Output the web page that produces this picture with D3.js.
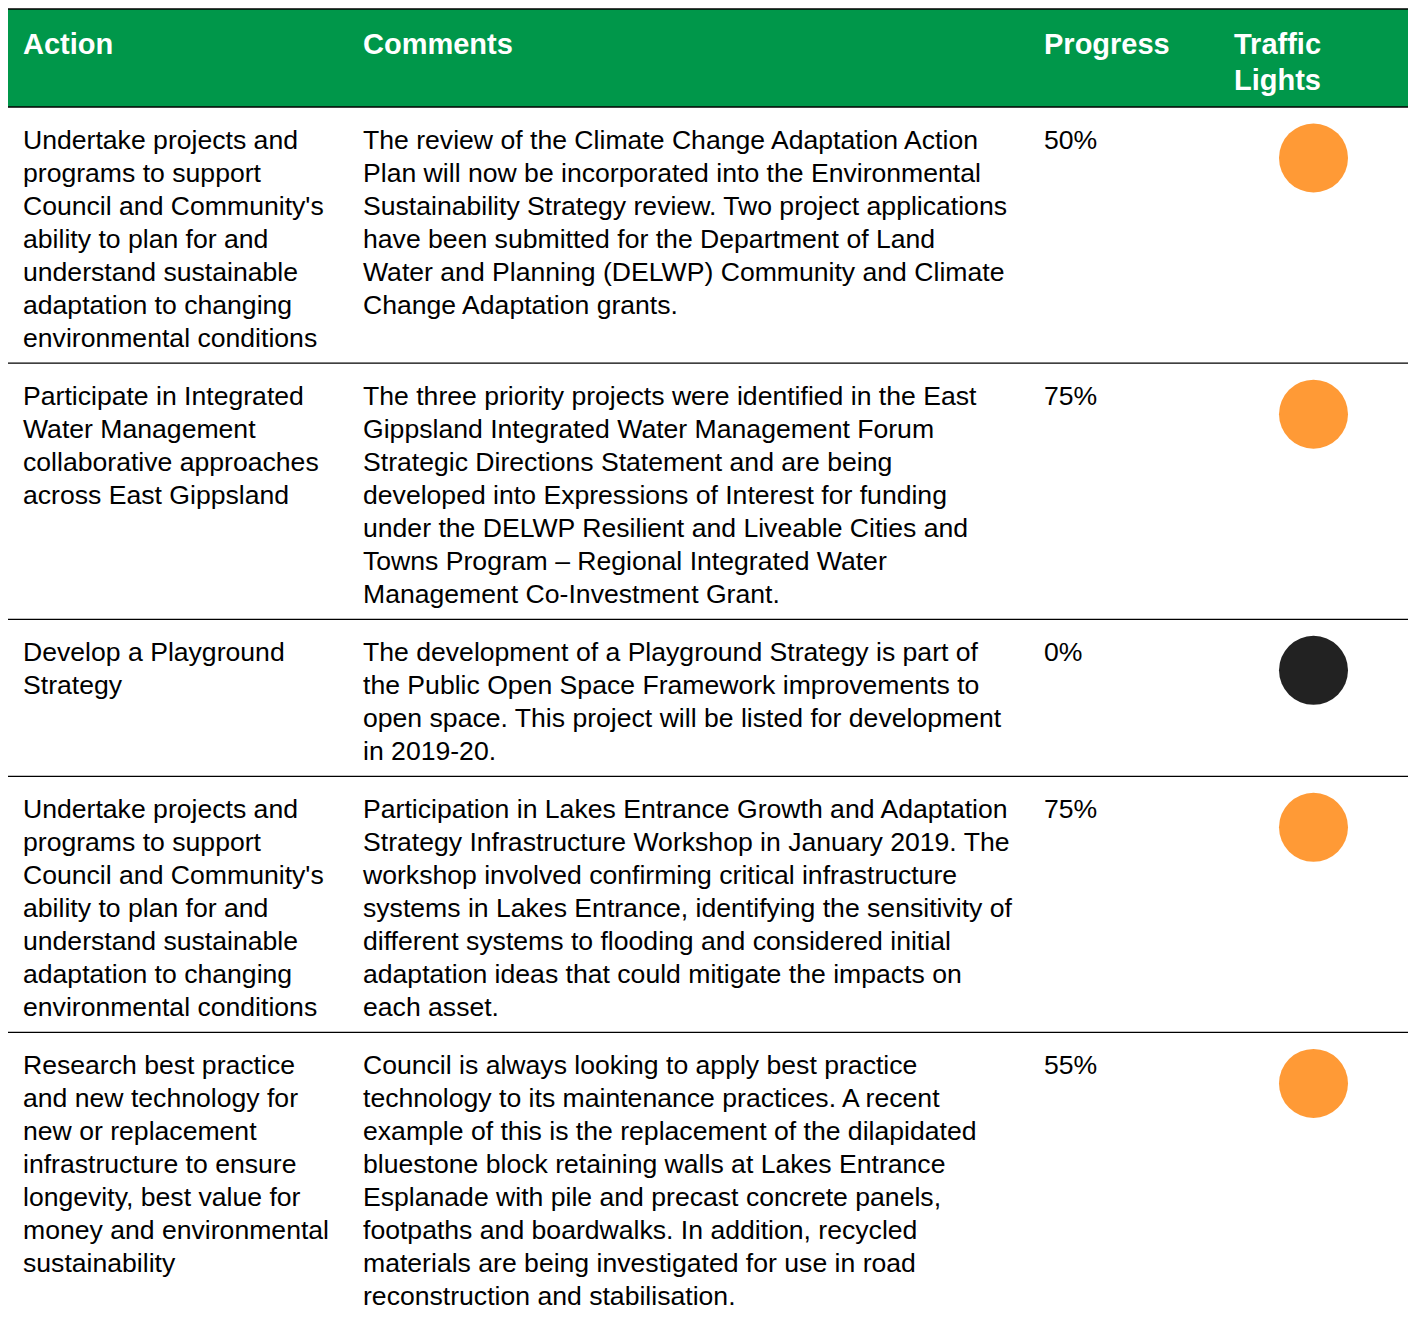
<!DOCTYPE html>
<html><head><meta charset="utf-8">
<script src="https://cdn.jsdelivr.net/npm/d3@7"></script>
<style>body{margin:0;background:#fff}svg{display:block}</style>
</head><body>
<svg id="c" width="1410" height="1318"></svg>
<script>
const headers = ["Action", "Comments", "Progress", ["Traffic", "Lights"]];
const actions = [
  ["Undertake projects and","programs to support","Council and Community's","ability to plan for and","understand sustainable","adaptation to changing","environmental conditions"],
  ["Participate in Integrated","Water Management","collaborative approaches","across East Gippsland"],
  ["Develop a Playground","Strategy"],
  ["Undertake projects and","programs to support","Council and Community's","ability to plan for and","understand sustainable","adaptation to changing","environmental conditions"],
  ["Research best practice","and new technology for","new or replacement","infrastructure to ensure","longevity, best value for","money and environmental","sustainability"]
];
const comments = [
  ["The review of the Climate Change Adaptation Action","Plan will now be incorporated into the Environmental","Sustainability Strategy review. Two project applications","have been submitted for the Department of Land","Water and Planning (DELWP) Community and Climate","Change Adaptation grants."],
  ["The three priority projects were identified in the East","Gippsland Integrated Water Management Forum","Strategic Directions Statement and are being","developed into Expressions of Interest for funding","under the DELWP Resilient and Liveable Cities and","Towns Program \u2013 Regional Integrated Water","Management Co-Investment Grant."],
  ["The development of a Playground Strategy is part of","the Public Open Space Framework improvements to","open space. This project will be listed for development","in 2019-20."],
  ["Participation in Lakes Entrance Growth and Adaptation","Strategy Infrastructure Workshop in January 2019. The","workshop involved confirming critical infrastructure","systems in Lakes Entrance, identifying the sensitivity of","different systems to flooding and considered initial","adaptation ideas that could mitigate the impacts on","each asset."],
  ["Council is always looking to apply best practice","technology to its maintenance practices. A recent","example of this is the replacement of the dilapidated","bluestone block retaining walls at Lakes Entrance","Esplanade with pile and precast concrete panels,","footpaths and boardwalks. In addition, recycled","materials are being investigated for use in road","reconstruction and stabilisation."]
];
const progress = [50, 75, 0, 75, 55];
const lights = ["amber", "amber", "black", "amber", "amber"];

const lightColor = d3.scaleOrdinal().domain(["amber","black"]).range(["#FF9A36","#222222"]);
const svg = d3.select("#c");
const font = "'Liberation Sans', Arial, sans-serif";
const colX = [23, 363, 1044, 1234];
const left = 8, right = 1408;
const headTop = 9, headBottom = 107;
const lineH = 33.05;
const pad = 24.8;

// header
svg.append("rect").attr("x", left).attr("y", headTop).attr("width", right-left).attr("height", headBottom-headTop).attr("fill", "#00974A");
svg.append("line").attr("x1", left).attr("x2", right).attr("y1", headTop).attr("y2", headTop).attr("stroke", "#000").attr("stroke-width", 1.5);
svg.append("line").attr("x1", left).attr("x2", right).attr("y1", headBottom).attr("y2", headBottom).attr("stroke", "#000").attr("stroke-width", 1.5);
headers.forEach((h, i) => {
  const lines = Array.isArray(h) ? h : [h];
  const t = svg.append("text").attr("font-family", font).attr("font-weight", "bold").attr("font-size", 29).attr("fill", "#fff");
  lines.forEach((l, j) => t.append("tspan").attr("x", colX[i]).attr("y", 54 + j*36).text(l));
});

// rows
const nLines = actions.map((a, i) => Math.max(a.length, comments[i].length));
let tops = [headBottom];
nLines.forEach((n, i) => tops.push(tops[i] + n*lineH + pad));
const y = d3.scaleOrdinal().domain(d3.range(actions.length)).range(tops.slice(0, actions.length));

const rows = svg.selectAll("g.row").data(d3.range(actions.length)).join("g").attr("class", "row")
  .attr("transform", i => `translate(0,${y(i)})`);

rows.filter(i => i > 0).append("line").attr("x1", left).attr("x2", right).attr("y1", 0).attr("y2", 0).attr("stroke", "#000").attr("stroke-width", 1.2);

function addLines(sel, getLines, x) {
  sel.append("text").attr("font-family", font).attr("font-size", 26.6).attr("fill", "#000")
    .each(function(i) {
      const t = d3.select(this);
      getLines(i).forEach((l, j) => t.append("tspan").attr("x", x).attr("y", 41.5 + j*lineH).text(l));
    });
}
addLines(rows, i => actions[i], colX[0]);
addLines(rows, i => comments[i], colX[1]);
addLines(rows, i => [progress[i] + "%"], colX[2]);

rows.append("circle").attr("cx", 1313.5).attr("cy", 51).attr("r", 34.5).attr("fill", i => lightColor(lights[i]));
</script>
</body></html>
